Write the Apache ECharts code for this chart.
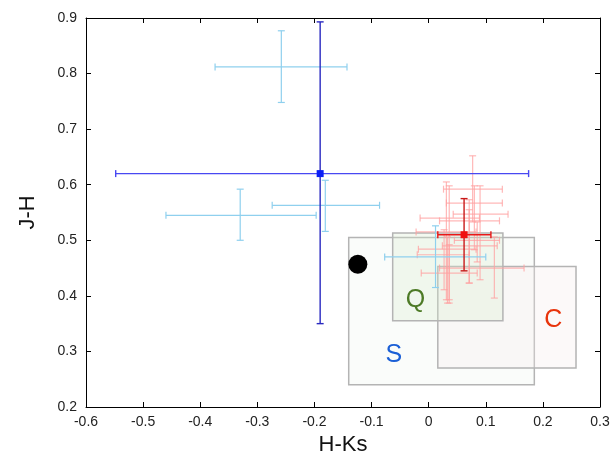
<!DOCTYPE html>
<html>
<head>
<meta charset="utf-8">
<script src="https://cdn.jsdelivr.net/npm/echarts@6/dist/echarts.min.js"></script>
<style>
  html, body { margin: 0; padding: 0; background: #fff; }
  #chart { width: 616px; height: 452px; }
</style>
</head>
<body>
<div id="chart"></div>
<script>
// rows: [x, y, xLow, xHigh, yLow, yHigh]
var lightBlue = [
  [-0.258, 0.812, -0.374, -0.143, 0.748, 0.877],
  [-0.330, 0.545, -0.460, -0.197, 0.500, 0.592],
  [-0.181, 0.563, -0.274, -0.086, 0.516, 0.608],
  [0.012, 0.470, -0.077, 0.100, 0.415, 0.526]
];
var pink = [
  [0.077, 0.592, 0.026, 0.129, 0.533, 0.652],
  [0.080, 0.567, 0.031, 0.129, 0.483, 0.598],
  [0.090, 0.547, 0.043, 0.139, 0.429, 0.598],
  [0.036, 0.540, -0.015, 0.089, 0.387, 0.598],
  [0.071, 0.535, 0.019, 0.124, 0.423, 0.573],
  [0.031, 0.515, -0.022, 0.083, 0.393, 0.605],
  [0.071, 0.490, 0.024, 0.120, 0.423, 0.555],
  [0.033, 0.484, -0.018, 0.083, 0.387, 0.506],
  [0.115, 0.450, 0.019, 0.167, 0.396, 0.506],
  [0.036, 0.441, -0.013, 0.085, 0.393, 0.492],
  [0.085, 0.500, 0.045, 0.124, 0.461, 0.533],
  [0.027, 0.474, -0.020, 0.071, 0.411, 0.519]
];
var bluePoint = [[-0.19, 0.62, -0.548, 0.175, 0.35, 0.893]];
var redPoint = [[0.062, 0.51, 0.016, 0.109, 0.445, 0.575]];
var blackDot = [[-0.124, 0.457]];

// boxes: [xMin, xMax, yMin, yMax]
var boxNames = ["S", "C", "Q"];
var boxes = [
  [-0.140, 0.185, 0.240, 0.505],
  [0.016, 0.258, 0.270, 0.453],
  [-0.063, 0.130, 0.355, 0.513]
];
var boxFills = ["rgba(235,245,235,0.25)", "rgba(245,235,235,0.3)", "rgba(215,235,205,0.3)"];
// label positions [x, y]
var boxLabels = [[-0.061, 0.294], [0.218, 0.357], [-0.023, 0.392]];
var boxLabelColors = ["#1a5fd6", "#e8340c", "#4d7a26"];

var xTicks = { min: -0.6, max: 0.3, interval: 0.1 };
var yTicks = { min: 0.2, max: 0.9, interval: 0.1 };

var fontName = "Liberation Sans, Arial, sans-serif";

function errorBars(hColor, vColor, cap, width) {
  return function (params, api) {
    var c = api.coord([api.value(0), api.value(1)]);
    var xl = api.coord([api.value(2), api.value(1)]);
    var xh = api.coord([api.value(3), api.value(1)]);
    var yl = api.coord([api.value(0), api.value(4)]);
    var yh = api.coord([api.value(0), api.value(5)]);
    var hs = { stroke: hColor, lineWidth: width };
    var vs = { stroke: vColor, lineWidth: width };
    return {
      type: "group",
      children: [
        { type: "line", shape: { x1: xl[0], y1: c[1], x2: xh[0], y2: c[1] }, style: hs },
        { type: "line", shape: { x1: xl[0], y1: c[1] - cap, x2: xl[0], y2: c[1] + cap }, style: hs },
        { type: "line", shape: { x1: xh[0], y1: c[1] - cap, x2: xh[0], y2: c[1] + cap }, style: hs },
        { type: "line", shape: { x1: c[0], y1: yl[1], x2: c[0], y2: yh[1] }, style: vs },
        { type: "line", shape: { x1: c[0] - cap, y1: yl[1], x2: c[0] + cap, y2: yl[1] }, style: vs },
        { type: "line", shape: { x1: c[0] - cap, y1: yh[1], x2: c[0] + cap, y2: yh[1] }, style: vs }
      ]
    };
  };
}

var chart = echarts.init(document.getElementById("chart"));

var labelFmt = function (v) { return String(+v.toFixed(1)); };
var tickStyle = { inside: true, length: 5, lineStyle: { color: "#000" } };
var lineStyle = { show: true, onZero: false, lineStyle: { color: "#000", width: 1 } };

chart.setOption({
  animation: false,
  grid: { left: 86, right: 16, top: 18, bottom: 45, outerBoundsMode: "none", containLabel: false },
  xAxis: [
    {
      type: "value", min: xTicks.min, max: xTicks.max, interval: xTicks.interval,
      name: "H-Ks", nameLocation: "middle", nameGap: 22,
      nameTextStyle: { fontSize: 22, color: "#111", fontFamily: fontName },
      axisLine: lineStyle, axisTick: tickStyle,
      axisLabel: { fontSize: 14, color: "#222", fontFamily: fontName, margin: 8, formatter: labelFmt },
      splitLine: { show: false }
    },
    {
      type: "value", position: "top", min: xTicks.min, max: xTicks.max, interval: xTicks.interval,
      axisLine: lineStyle, axisTick: tickStyle,
      axisLabel: { show: false }, splitLine: { show: false }
    }
  ],
  yAxis: [
    {
      type: "value", min: yTicks.min, max: yTicks.max, interval: yTicks.interval,
      name: "J-H", nameLocation: "middle", nameGap: 47,
      nameTextStyle: { fontSize: 22, color: "#111", fontFamily: fontName },
      axisLine: lineStyle, axisTick: tickStyle,
      axisLabel: { fontSize: 14, color: "#222", fontFamily: fontName, margin: 9, formatter: labelFmt },
      splitLine: { show: false }
    },
    {
      type: "value", position: "right", min: yTicks.min, max: yTicks.max, interval: yTicks.interval,
      axisLine: lineStyle, axisTick: tickStyle,
      axisLabel: { show: false }, splitLine: { show: false }
    }
  ],
  series: [
    {
      type: "custom",
      data: boxes.map(function (b, i) { return b.concat([i]); }),
      encode: { x: [0, 1], y: [2, 3] },
      renderItem: function (params, api) {
        var p0 = api.coord([api.value(0), api.value(3)]);
        var p1 = api.coord([api.value(1), api.value(2)]);
        return {
          type: "rect",
          shape: { x: p0[0], y: p0[1], width: p1[0] - p0[0], height: p1[1] - p0[1] },
          style: { fill: boxFills[api.value(4)], stroke: "#b4b4b4", lineWidth: 1.5 }
        };
      },
      z: 1
    },
    {
      type: "custom",
      data: boxLabels.map(function (p, i) { return p.concat([i]); }),
      encode: { x: 0, y: 1 },
      renderItem: function (params, api) {
        var c = api.coord([api.value(0), api.value(1)]);
        var i = api.value(2);
        return {
          type: "text",
          style: {
            x: c[0], y: c[1], text: boxNames[i], fill: boxLabelColors[i],
            fontSize: 25, fontFamily: fontName, align: "center", verticalAlign: "middle"
          }
        };
      },
      z: 2
    },
    {
      type: "custom", data: pink, encode: { x: [0, 2, 3], y: [1, 4, 5] },
      renderItem: errorBars("rgba(255,160,160,0.75)", "rgba(255,160,160,0.75)", 3.5, 1.2), z: 3
    },
    {
      type: "custom", data: lightBlue, encode: { x: [0, 2, 3], y: [1, 4, 5] },
      renderItem: errorBars("#8fd0ee", "#8fd0ee", 3.5, 1.2), z: 4
    },
    {
      type: "custom", data: bluePoint, encode: { x: [0, 2, 3], y: [1, 4, 5] },
      renderItem: errorBars("#4848f2", "#2a2ac0", 3.5, 1.4), z: 5
    },
    {
      type: "custom", data: redPoint, encode: { x: [0, 2, 3], y: [1, 4, 5] },
      renderItem: errorBars("#e81818", "#c81818", 3.5, 1.4), z: 5
    },
    {
      type: "scatter", data: bluePoint.map(function (p) { return [p[0], p[1]]; }),
      symbol: "rect", symbolSize: 7, itemStyle: { color: "#0a1ef5", opacity: 1 }, z: 6
    },
    {
      type: "scatter", data: redPoint.map(function (p) { return [p[0], p[1]]; }),
      symbol: "rect", symbolSize: 7, itemStyle: { color: "#f01010", opacity: 1 }, z: 6
    },
    {
      type: "scatter", data: blackDot,
      symbol: "circle", symbolSize: 19, itemStyle: { color: "#000", opacity: 1 }, z: 6
    }
  ]
});
</script>
</body>
</html>
